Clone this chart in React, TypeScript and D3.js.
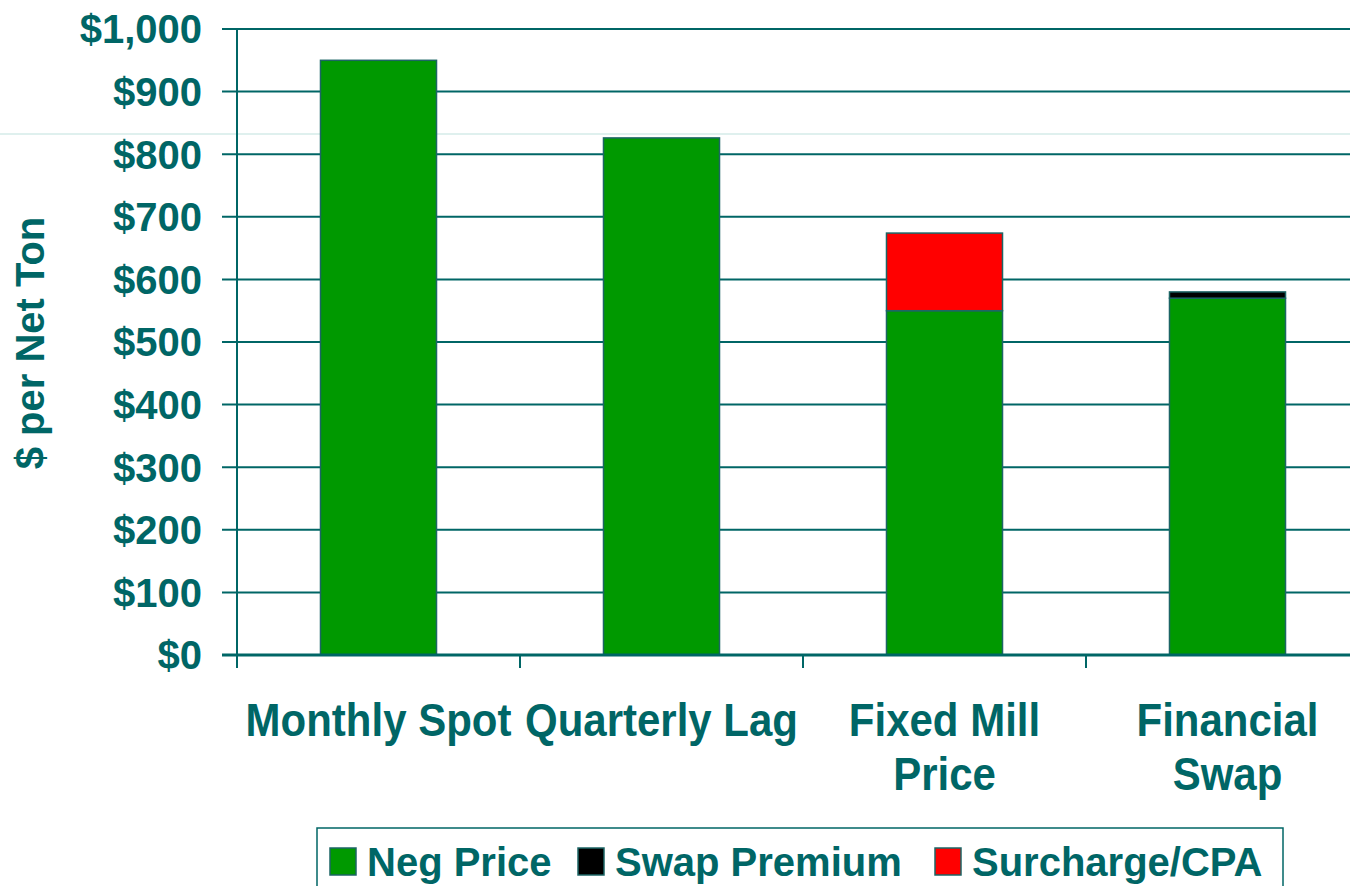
import { useEffect, useRef } from 'react';
import * as d3 from 'd3';

const categories = ['Monthly Spot', 'Quarterly Lag', 'Fixed Mill Price', 'Financial Swap'];
const categoryLines = [['Monthly Spot'], ['Quarterly Lag'], ['Fixed Mill', 'Price'], ['Financial', 'Swap']];
const negPrice = [950, 826, 550, 570];
const swapPremium = [0, 0, 0, 10];
const surcharge = [0, 0, 124, 0];
const seriesNames = ['Neg Price', 'Swap Premium', 'Surcharge/CPA'];
const seriesColors = ['#009900', '#000000', '#ff0000'];
const yTicks = [0, 100, 200, 300, 400, 500, 600, 700, 800, 900, 1000];

const TEAL = '#006666';
const FONT = 'Arial, "Liberation Sans", Helvetica, sans-serif';

const App = () => {
  const svgRef = useRef<SVGSVGElement>(null);

  useEffect(() => {
    const width = 1350;
    const height = 886;
    const left = 237;
    const step = 283;

    const svg = d3.select(svgRef.current)
      .attr('width', width)
      .attr('height', height);
    svg.selectAll('*').remove();

    const rows = categories.map((c, i) => ({
      cat: c,
      'Neg Price': negPrice[i],
      'Swap Premium': swapPremium[i],
      'Surcharge/CPA': surcharge[i],
    }));

    const xScale = d3.scaleBand()
      .domain(categories)
      .range([left, left + step * categories.length])
      .padding(0);

    const yScale = d3.scaleLinear()
      .domain([0, 1000])
      .range([655, 29]);

    // faint scan artifact line
    svg.append('line')
      .attr('x1', 0).attr('x2', width)
      .attr('y1', 134).attr('y2', 134)
      .attr('stroke', '#d4ebe8')
      .attr('stroke-width', 1.5);

    // gridlines
    svg.selectAll('.grid')
      .data(yTicks.filter(t => t > 0))
      .enter().append('line')
      .attr('class', 'grid')
      .attr('x1', 222).attr('x2', width)
      .attr('y1', d => yScale(d)).attr('y2', d => yScale(d))
      .attr('stroke', TEAL)
      .attr('stroke-width', 2);

    // bars
    const stack = d3.stack<any>().keys(seriesNames);
    const layers = stack(rows);
    const barW = xScale.bandwidth() * 0.41;

    svg.selectAll('.layer')
      .data(layers)
      .enter().append('g')
      .attr('class', 'layer')
      .attr('fill', (_, i) => seriesColors[i])
      .selectAll('rect')
      .data(d => d.filter(p => p[1] - p[0] > 0))
      .enter().append('rect')
      .attr('x', d => (xScale(d.data.cat) as number) + (xScale.bandwidth() - barW) / 2)
      .attr('y', d => yScale(d[1]))
      .attr('width', barW)
      .attr('height', d => yScale(d[0]) - yScale(d[1]))
      .attr('stroke', '#1d6565')
      .attr('stroke-width', 1.5);

    // y axis line
    svg.append('line')
      .attr('x1', left).attr('x2', left)
      .attr('y1', yScale(1000)).attr('y2', 668)
      .attr('stroke', TEAL)
      .attr('stroke-width', 2);

    // x axis line
    svg.append('line')
      .attr('x1', 222).attr('x2', width)
      .attr('y1', yScale(0)).attr('y2', yScale(0))
      .attr('stroke', TEAL)
      .attr('stroke-width', 3);

    // x ticks at band edges
    svg.selectAll('.xtick')
      .data(categories)
      .enter().append('line')
      .attr('class', 'xtick')
      .attr('x1', d => xScale(d) as number).attr('x2', d => xScale(d) as number)
      .attr('y1', yScale(0)).attr('y2', 668)
      .attr('stroke', TEAL)
      .attr('stroke-width', 2);

    // y tick labels
    svg.selectAll('.ylabel')
      .data(yTicks)
      .enter().append('text')
      .attr('class', 'ylabel')
      .attr('x', 202)
      .attr('y', d => yScale(d))
      .attr('dy', '0.36em')
      .attr('text-anchor', 'end')
      .attr('font-family', FONT)
      .attr('font-weight', 'bold')
      .attr('font-size', 40)
      .attr('fill', TEAL)
      .text(d => d3.format('$,')(d));

    // y title
    svg.append('text')
      .attr('transform', 'translate(30, 343) rotate(-90)')
      .attr('text-anchor', 'middle')
      .attr('dy', '0.36em')
      .attr('font-family', FONT)
      .attr('font-weight', 'bold')
      .attr('font-size', 40)
      .attr('fill', TEAL)
      .text('$ per Net Ton');

    // x labels
    const xl = svg.selectAll('.xlabel')
      .data(categories)
      .enter().append('text')
      .attr('class', 'xlabel')
      .attr('text-anchor', 'middle')
      .attr('font-family', FONT)
      .attr('font-weight', 'bold')
      .attr('font-size', 42)
      .attr('fill', TEAL)
      .attr('transform', d => `translate(${(xScale(d) as number) + xScale.bandwidth() / 2}, 736) scale(1, 1.12)`);

    xl.selectAll('tspan')
      .data((_, i) => categoryLines[i])
      .enter().append('tspan')
      .attr('x', 0)
      .attr('y', (_, j) => j * 48)
      .text(d => d);

    // legend
    const legend = svg.append('g');
    legend.append('rect')
      .attr('x', 317).attr('y', 828)
      .attr('width', 966).attr('height', 80)
      .attr('fill', 'white')
      .attr('stroke', TEAL)
      .attr('stroke-width', 1.5);

    const legendX = [330, 578, 935];
    const items = legend.selectAll('.item')
      .data(seriesNames)
      .enter().append('g')
      .attr('class', 'item')
      .attr('transform', (_, i) => `translate(${legendX[i]}, 848)`);

    items.append('rect')
      .attr('width', 26).attr('height', 27)
      .attr('fill', (_, i) => seriesColors[i])
      .attr('stroke', '#1d6565')
      .attr('stroke-width', 1.5);

    items.append('text')
      .attr('x', 37)
      .attr('y', 28)
      .attr('font-family', FONT)
      .attr('font-weight', 'bold')
      .attr('font-size', 40)
      .attr('fill', TEAL)
      .text(d => d);
  }, []);

  return (
    <div>
      <svg ref={svgRef} style={{ position: 'absolute', left: 0, top: 0 }} />
    </div>
  );
};

export default App;
